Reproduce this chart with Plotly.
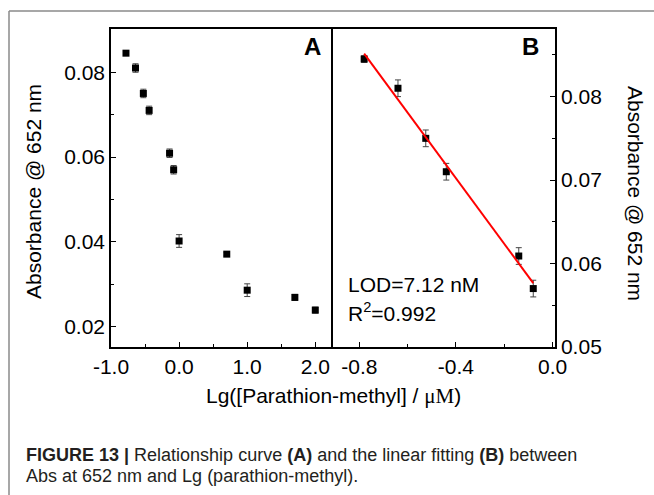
import numpy as np
import plotly.graph_objects as go

# ---- data ----
lg_conc = [-0.78, -0.64, -0.525, -0.44, -0.14, -0.08, 0.0, 0.70, 1.0, 1.70, 2.0]
absorb = [0.0845, 0.0810, 0.0750, 0.0710, 0.0609, 0.0570, 0.0402, 0.0371, 0.0286, 0.0269, 0.0239]
abs_err = [0.0004, 0.0010, 0.0010, 0.0010, 0.0010, 0.0010, 0.0015, 0.0004, 0.0015, 0.0007, 0.0007]
n_linear = 6
xA_ticks = [-1.0, 0.0, 1.0, 2.0]
xA_labels = ["-1.0", "0.0", "1.0", "2.0"]
yA_ticks = [0.02, 0.04, 0.06, 0.08]
yA_labels = ["0.02", "0.04", "0.06", "0.08"]
xB_ticks = [-0.8, -0.4, 0.0]
xB_labels = ["-0.8", "-0.4", "0.0"]
yB_ticks = [0.05, 0.06, 0.07, 0.08]
yB_labels = ["0.05", "0.06", "0.07", "0.08"]

xB = lg_conc[:n_linear]
yB = absorb[:n_linear]
eB = abs_err[:n_linear]
slope, intercept = np.polyfit(xB, yB, 1)
fit_x = [min(xB), max(xB)]
fit_y = [slope * v + intercept for v in fit_x]

FONT = "Liberation Sans, Arial, sans-serif"
CAPFONT = "Liberation Sans Narrow, Arial Narrow, Liberation Sans, sans-serif"

fig = go.Figure()
fig.add_trace(go.Scatter(
    x=lg_conc, y=absorb, mode="markers", xaxis="x", yaxis="y",
    marker=dict(symbol="square", size=7, color="black"),
    error_y=dict(type="data", array=abs_err, visible=True, color="#444", thickness=1, width=3),
    showlegend=False))
fig.add_trace(go.Scatter(
    x=xB, y=yB, mode="markers", xaxis="x2", yaxis="y2",
    marker=dict(symbol="square", size=7, color="black"),
    error_y=dict(type="data", array=eB, visible=True, color="#444", thickness=1, width=3),
    showlegend=False))
fig.add_trace(go.Scatter(
    x=fit_x, y=fit_y, mode="lines", xaxis="x2", yaxis="y2",
    line=dict(color="#ff0000", width=2), showlegend=False))

def axis_common(mirror=True):
    return dict(showline=True, linecolor="black", linewidth=1.5, mirror=mirror,
                ticks="inside", ticklen=5, tickwidth=1.2, tickcolor="black",
                showgrid=False, zeroline=False, automargin=False,
                tickfont=dict(family=FONT, size=21, color="black"))

fig.update_layout(
    width=654, height=495,
    margin=dict(l=111, r=99, t=29, b=148),
    paper_bgcolor="white", plot_bgcolor="white",
    xaxis=dict(domain=[0, 0.5], range=[-1.0, 2.26], anchor="y",
               tickvals=xA_ticks, ticktext=xA_labels,
               minor=dict(ticks="inside", ticklen=3, dtick=0.5, tick0=-1.0, tickcolor="black"),
               **axis_common()),
    yaxis=dict(domain=[0, 1], range=[0.0152, 0.0902], anchor="x",
               tickvals=yA_ticks, ticktext=yA_labels,
               minor=dict(ticks="inside", ticklen=3, dtick=0.01, tick0=0.0, tickcolor="black"),
               **axis_common(mirror=False)),
    xaxis2=dict(domain=[0.5, 1], range=[-0.909, 0.01], anchor="y2",
                tickvals=xB_ticks, ticktext=xB_labels,
                minor=dict(ticks="inside", ticklen=3, dtick=0.2, tick0=0.0, tickcolor="black"),
                **axis_common()),
    yaxis2=dict(domain=[0, 1], range=[0.05, 0.0881], anchor="x2", side="right",
                tickvals=yB_ticks, ticktext=yB_labels,
                minor=dict(ticks="inside", ticklen=3, dtick=0.005, tick0=0.0, tickcolor="black"),
                **axis_common()),
)

def px_x(px):
    return (px - 111) / 444.0

def px_y(py):
    return (347 - py) / 318.0

ann = []
ann.append(dict(text="<b>A</b>", x=px_x(323), y=px_y(46), xanchor="right", yanchor="middle",
                font=dict(family=FONT, size=24, color="black")))
ann.append(dict(text="<b>B</b>", x=px_x(541), y=px_y(46), xanchor="right", yanchor="middle",
                font=dict(family=FONT, size=24, color="black")))
ann.append(dict(text="LOD=7.12 nM", x=px_x(346), y=px_y(284), xanchor="left", yanchor="middle",
                font=dict(family=FONT, size=21, color="black")))
ann.append(dict(text="R<sup>2</sup>=0.992", x=px_x(346), y=px_y(312), xanchor="left", yanchor="middle",
                font=dict(family=FONT, size=21, color="black")))
ann.append(dict(text="Absorbance @ 652 nm", x=px_x(33), y=px_y(192), textangle=-90,
                xanchor="center", yanchor="middle",
                font=dict(family=FONT, size=21, color="black")))
ann.append(dict(text="Absorbance @ 652 nm", x=px_x(636), y=px_y(193), textangle=90,
                xanchor="center", yanchor="middle",
                font=dict(family=FONT, size=21, color="black")))
ann.append(dict(text="Lg([Parathion-methyl] / <span style=\"font-family:'Liberation Serif', 'Times New Roman', serif\">μM</span>)",
                x=px_x(333), y=px_y(396), xanchor="center", yanchor="middle",
                font=dict(family=FONT, size=21, color="black")))
ann.append(dict(text="<b>FIGURE 13 |</b> Relationship curve <b>(A)</b> and the linear fitting <b>(B)</b> between",
                x=px_x(24), y=px_y(455), xanchor="left", yanchor="middle",
                font=dict(family=CAPFONT, size=18, color="#231f20")))
ann.append(dict(text="Abs at 652 nm and Lg (parathion-methyl).",
                x=px_x(24), y=px_y(476), xanchor="left", yanchor="middle",
                font=dict(family=CAPFONT, size=18, color="#231f20")))
for a in ann:
    a.update(xref="paper", yref="paper", showarrow=False)
fig.update_layout(annotations=ann)

fig.update_layout(shapes=[
    dict(type="line", xref="paper", yref="paper", x0=px_x(9), x1=px_x(660), y0=px_y(11), y1=px_y(11),
         line=dict(color="#8a8a8a", width=1.5)),
    dict(type="line", xref="paper", yref="paper", x0=px_x(9), x1=px_x(9), y0=px_y(11), y1=px_y(500),
         line=dict(color="#8a8a8a", width=1.5)),
])

fig.write_html("out.html", config={"displayModeBar": False},
               post_script="document.body.style.margin='0';document.body.style.overflow='hidden';")
